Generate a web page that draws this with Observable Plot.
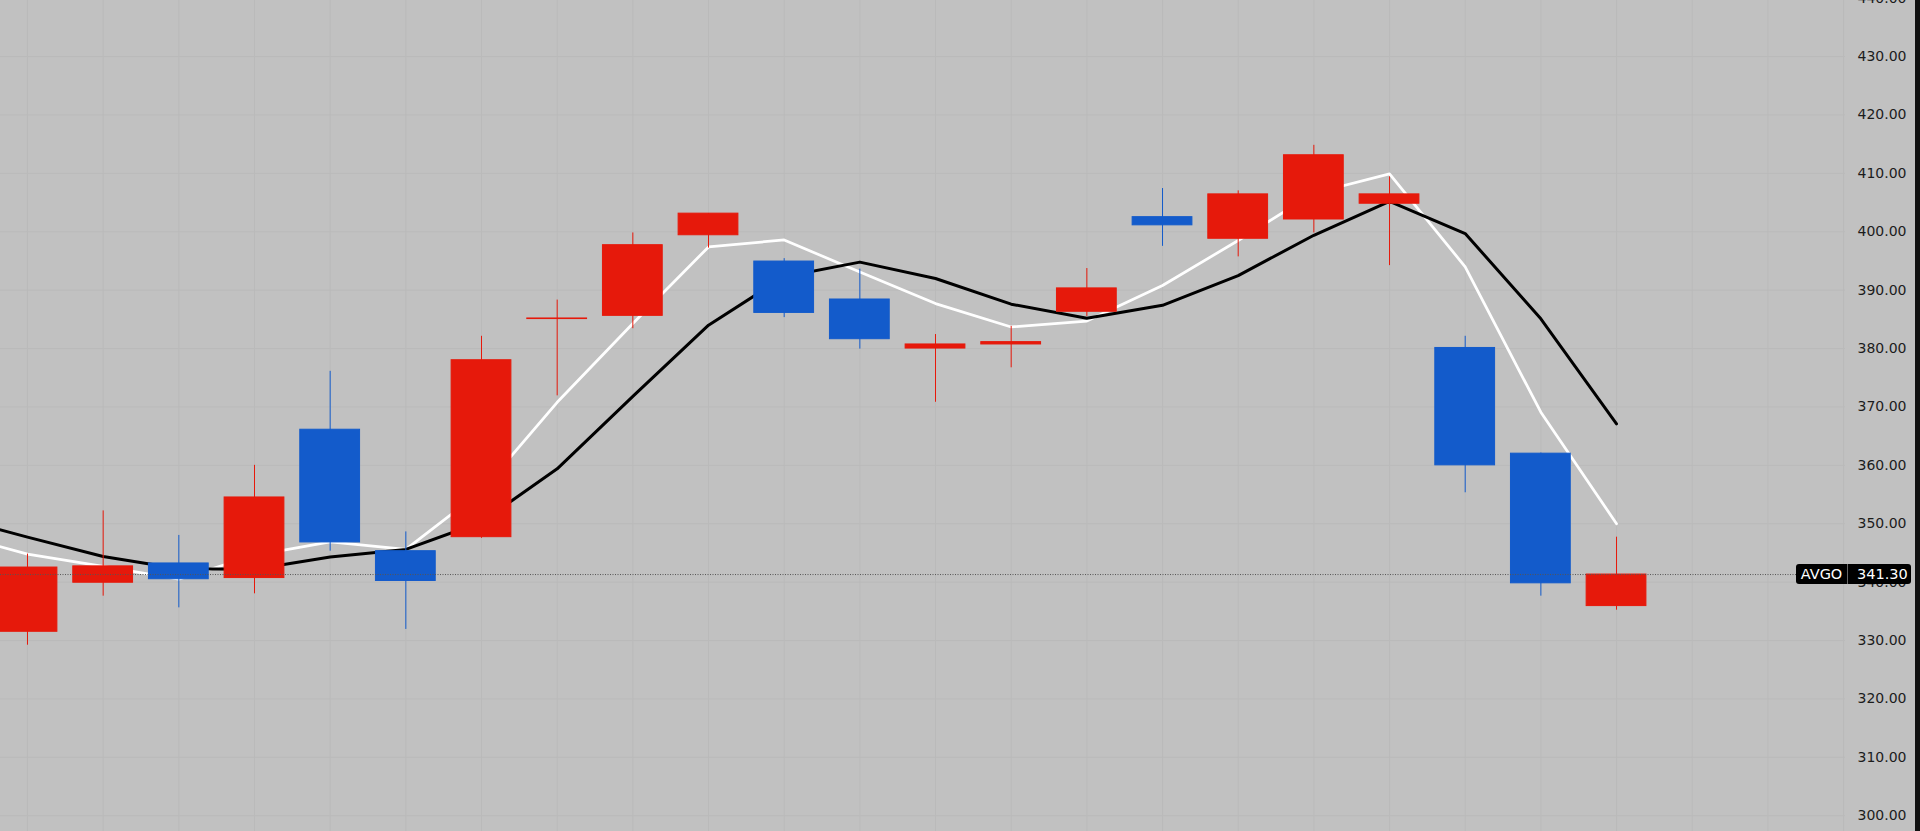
<!DOCTYPE html>
<html>
<head>
<meta charset="utf-8">
<script src="https://cdn.jsdelivr.net/npm/d3@7"></script>
<script src="https://cdn.jsdelivr.net/npm/@observablehq/plot@0.6"></script>
<style>
  html, body { margin: 0; padding: 0; background: #c1c1c1; overflow: hidden; }
  #wrap { position: relative; width: 1920px; height: 831px; }
  #edge { position: absolute; top: 0; right: 0; width: 5px; height: 831px; background: #111; }
  #tag { position: absolute; right: 9px; height: 20px; width: 115px; background: #000; border-radius: 3px;
         font-family: "DejaVu Sans", sans-serif; font-size: 14.5px; color: #fff; display: flex; align-items: center; }
  #tag .sym { width: 51px; text-align: center; border-right: 1px solid #666; height: 20px; line-height: 20px; }
  #tag .px { padding-left: 9px; line-height: 20px; }
</style>
</head>
<body>
<div id="wrap"></div>
<script>
// ---- data ----
const symbol = "AVGO";
const lastPrice = 341.30;
const opens  = [331.5, 339.9, 343.2, 340.7, 366.1, 345.3, 347.7, 385.05, 385.6, 399.4, 394.9, 388.4, 380.0, 380.7, 386.3, 402.5, 398.8, 402.1, 404.8, 380.1, 362.0, 335.9];
const highs  = [344.8, 352.2, 348.0, 360.0, 376.1, 348.6, 382.1, 388.3, 399.8, 403.1, 395.4, 393.6, 382.4, 383.8, 393.7, 407.4, 407.0, 414.8, 409.4, 382.1, 362.1, 347.7];
const lows   = [329.2, 337.6, 335.6, 338.0, 345.3, 331.9, 347.5, 371.9, 383.4, 397.2, 385.3, 379.9, 370.8, 376.7, 385.5, 397.5, 395.7, 399.8, 394.2, 355.3, 337.6, 335.2];
const closes = [342.5, 342.7, 340.5, 354.5, 346.8, 340.2, 378.0, 385.15, 397.7, 403.1, 386.1, 381.6, 380.7, 381.1, 390.3, 401.1, 406.4, 413.1, 406.4, 360.0, 339.8, 341.3];
// moving averages, starting one bar before the first visible candle
const fastMA = [348.3, 344.8, 342.7, 340.5, 344.6, 346.9, 345.6, 355.6, 370.8, 384.3, 397.4, 398.6, 393.1, 387.7, 383.7, 384.7, 390.8, 398.5, 406.6, 409.9, 394.0, 369.1, 350.0];
const slowMA = [351.2, 347.7, 344.4, 342.3, 342.2, 344.3, 345.6, 350.3, 359.4, 371.8, 384.0, 392.3, 394.8, 392.0, 387.6, 385.2, 387.4, 392.5, 399.4, 405.2, 399.7, 385.1, 367.1];
const yTicks = [300, 310, 320, 330, 340, 350, 360, 370, 380, 390, 400, 410, 420, 430, 440];
const barSlots = d3.range(-1, 25);

// ---- build ----
const UP = "#e6190b", DOWN = "#135bcb";
const candles = opens.map((o, i) => ({i, open: o, high: highs[i], low: lows[i], close: closes[i],
  color: closes[i] >= o ? UP : DOWN}));
const fast = fastMA.map((v, k) => ({i: k - 1, v}));
const slow = slowMA.map((v, k) => ({i: k - 1, v}));

const chart = Plot.plot({
  width: 1920, height: 831,
  marginLeft: 0, marginRight: 75, marginTop: 0, marginBottom: 0,
  style: {background: "#c1c1c1", fontFamily: "DejaVu Sans, sans-serif", fontSize: "14px", color: "#1c1c1c", overflow: "hidden"},
  x: {type: "linear", domain: [-0.3568, 24.026], axis: null},
  y: {domain: [297.3, 439.6], axis: null, label: null},
  marks: [
    Plot.gridX(barSlots, {stroke: "#bababa", strokeOpacity: 1}),
    Plot.gridY(yTicks, {stroke: "#bababa", strokeOpacity: 1}),
    Plot.axisY(yTicks, {anchor: "right", tickSize: 0, tickPadding: 12, label: null,
      tickFormat: d => d.toFixed(2), fill: "#1c1c1c"}),
    Plot.line(fast, {x: "i", y: "v", stroke: "#ffffff", strokeWidth: 2.75}),
    Plot.line(slow, {x: "i", y: "v", stroke: "#000000", strokeWidth: 3}),
    Plot.ruleX(candles, {x: "i", y1: "low", y2: "high", stroke: "color", strokeWidth: 1}),
    Plot.rect(candles, {x1: d => d.i - 0.395, x2: d => d.i + 0.395, y1: "open", y2: "close",
      fill: "color", stroke: "color", strokeWidth: 1}),
    Plot.ruleY([lastPrice], {stroke: "#555", strokeDasharray: "1,1.5", strokeWidth: 1})
  ]
});

const wrap = document.getElementById("wrap");
wrap.appendChild(chart);
const edge = document.createElement("div");
edge.id = "edge";
wrap.appendChild(edge);
const tag = document.createElement("div");
tag.id = "tag";
tag.style.top = (chart.scale("y").apply(lastPrice) - 10) + "px";
tag.innerHTML = `<span class="sym">${symbol}</span><span class="px">${lastPrice.toFixed(2)}</span>`;
wrap.appendChild(tag);
</script>
</body>
</html>
